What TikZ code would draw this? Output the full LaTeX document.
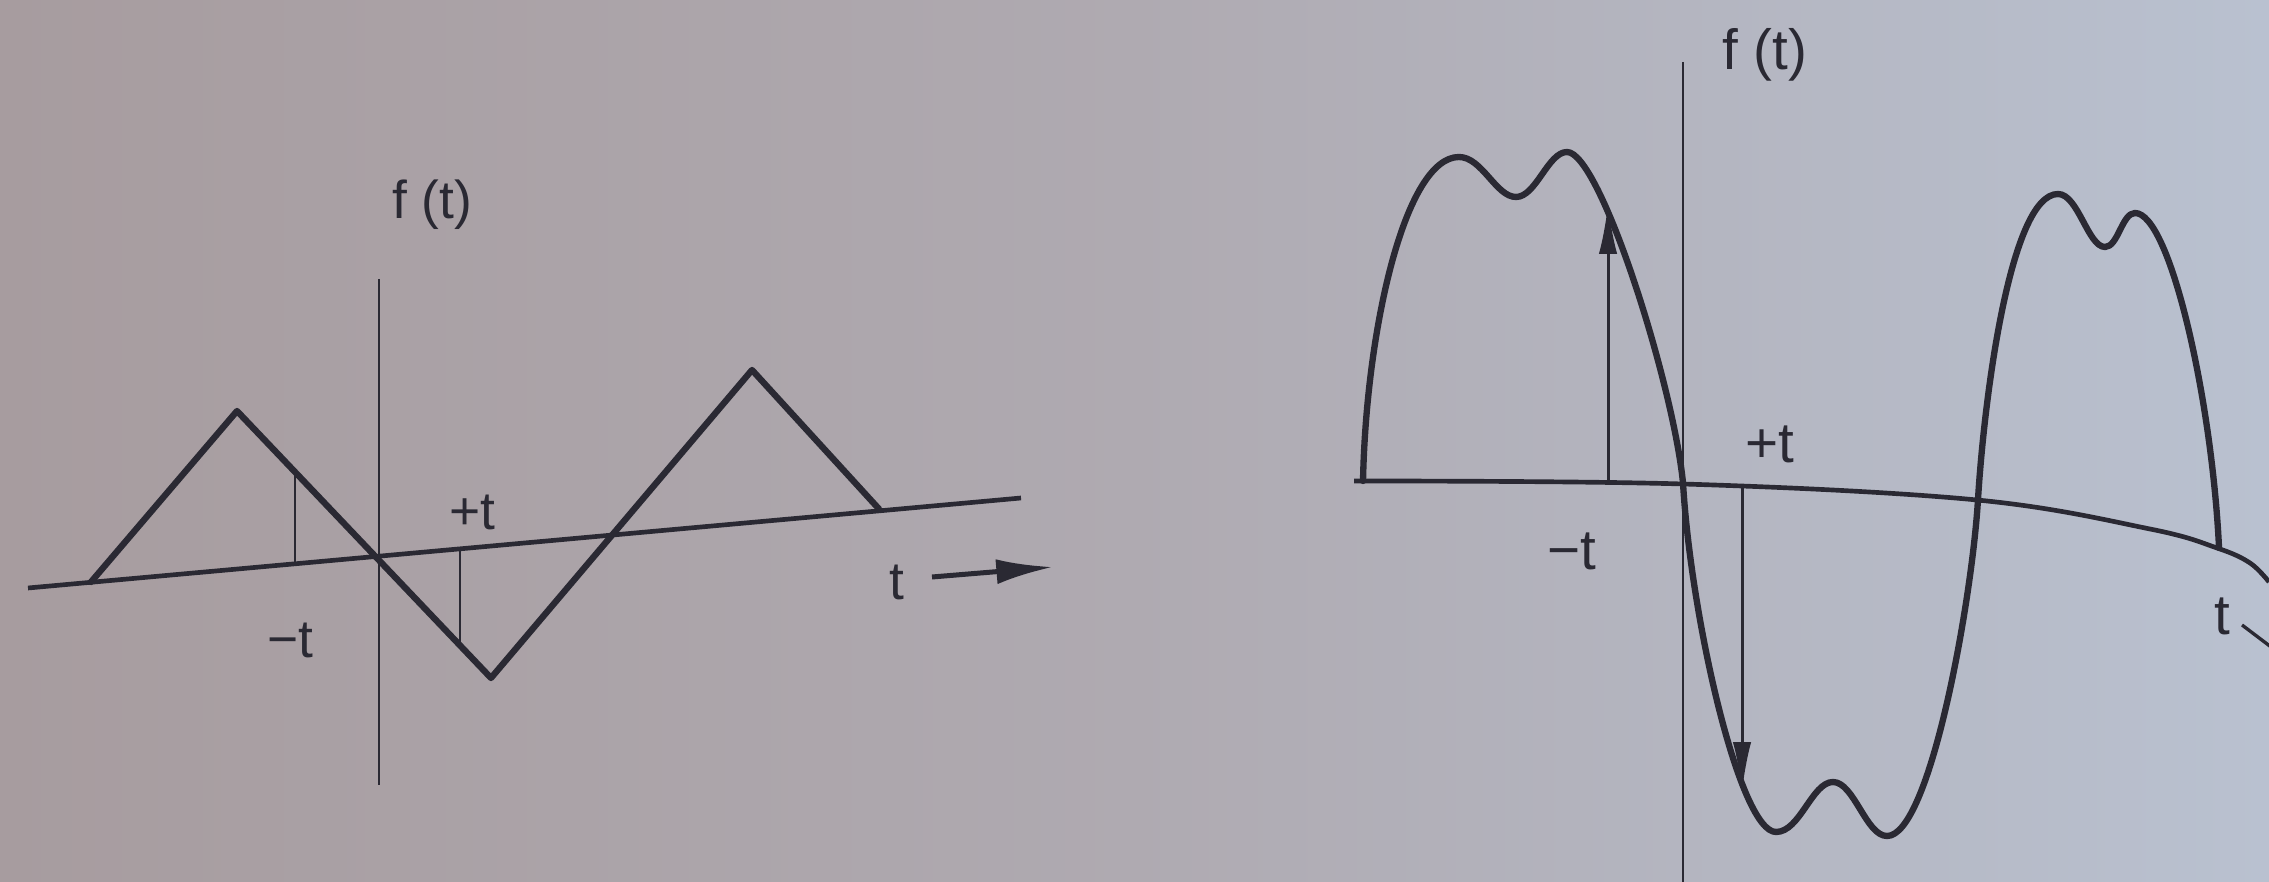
\documentclass[tikz,border=0pt]{standalone}
\usepackage{fontspec}
\setmainfont{Liberation Sans}
\usetikzlibrary{arrows.meta}
\definecolor{ink}{HTML}{2A2933}
\definecolor{bgL}{HTML}{A79C9F}
\definecolor{bgM}{HTML}{AFAAB1}
\definecolor{bgR}{HTML}{B9C1D0}
\tikzset{
  wave/.style={draw=ink, line width=1.9pt, line join=round, line cap=round},
  axisthick/.style={draw=ink, line width=1.4pt},
  axisthin/.style={draw=ink, line width=0.8pt},
  marker/.style={draw=ink, line width=0.8pt},
  lbl/.style={text=ink, font=\fontsize{16}{18}\selectfont, inner sep=1pt},
  rlbl/.style={text=ink, font=\fontsize{17}{19}\selectfont, inner sep=1pt},
  bigarrow/.style={draw=ink, line width=1.5pt, -{Latex[length=17pt,width=7.5pt]}},
  vecarrow/.style={draw=ink, line width=0.9pt, -{Latex[length=15pt,width=5.5pt]}}
}
\begin{document}
\begin{tikzpicture}[x=0.3pt, y=-0.3pt]
\useasboundingbox (0,0) rectangle (2269,882);
\shade[left color=bgL, right color=bgR, middle color=bgM] (0,0) rectangle (2269,882);

% ---------- left diagram ----------
\coordinate (LaxA) at (28,588);
\coordinate (LaxB) at (1021,498);
\coordinate (LvT) at (379,279);
\coordinate (LvB) at (379,785);
\coordinate (T0) at (91,582);
\coordinate (T1) at (237,411);
\coordinate (T2) at (491,678);
\coordinate (T3) at (752,370);
\coordinate (T4) at (879,509);
\coordinate (MnTop) at (295,472);
\coordinate (MnBot) at (295,564);
\coordinate (MpTop) at (460,549);
\coordinate (MpBot) at (460,645);
\coordinate (LarA) at (932,577);
\coordinate (LarB) at (1053,567);

\draw[axisthick] (LaxA) -- (LaxB);
\draw[axisthin] (LvT) -- (LvB);
\draw[wave] (T0) -- (T1) -- (T2) -- (T3) -- (T4);
\draw[marker] (MnTop) -- (MnBot);
\draw[marker] (MpTop) -- (MpBot);
\draw[bigarrow] (LarA) -- (LarB);

\node[lbl] (Lf) at (432,205) {f (t)};
\node[lbl] (Lp) at (472,512) {+t};
\node[lbl] (Lm) at (290,640) {−t};
\node[lbl] (Lt) at (897,582) {t};

% ---------- right diagram ----------
\coordinate (RvT) at (1683,62);
\coordinate (RvB) at (1683,882);
\coordinate (Rup0) at (1608,481);
\coordinate (Rup1) at (1608,204);
\coordinate (Rdn0) at (1742,487);
\coordinate (Rdn1) at (1742,792);
\coordinate (RtA) at (2242,625);
\coordinate (RtB) at (2275,650);

\coordinate (W0) at (1363,481);
\coordinate (W1) at (1459,157);
\coordinate (W2) at (1516,197);
\coordinate (W3) at (1567,152);
\coordinate (W4) at (1683,483);
\coordinate (W5) at (1776,832);
\coordinate (W6) at (1833,782);
\coordinate (W7) at (1887,836);
\coordinate (W8) at (1978,499);
\coordinate (W9) at (2058,194);
\coordinate (W10) at (2105,247);
\coordinate (W11) at (2135,213);
\coordinate (W12) at (2219,548);

\draw[axisthick] plot[smooth, tension=0.6] coordinates {(1354,481) (1683,484) (1977,500) (2150,529) (2217,548) (2250,563) (2269,582)};
\draw[axisthin] (RvT) -- (RvB);
\draw[wave] (W0)
  .. controls (1366,330) and (1405,157) .. (W1)
  .. controls (1482,157) and (1496,197) .. (W2)
  .. controls (1536,197) and (1548,152) .. (W3)
  .. controls (1600,152) and (1673,383) .. (W4)
  .. controls (1691,620) and (1740,832) .. (W5)
  .. controls (1800,832) and (1812,782) .. (W6)
  .. controls (1854,782) and (1866,836) .. (W7)
  .. controls (1930,836) and (1972,600) .. (W8)
  .. controls (1984,400) and (2010,194) .. (W9)
  .. controls (2078,194) and (2088,247) .. (W10)
  .. controls (2118,247) and (2122,213) .. (W11)
  .. controls (2170,213) and (2212,400) .. (W12);
\draw[vecarrow] (Rup0) -- (Rup1);
\draw[vecarrow] (Rdn0) -- (Rdn1);
\draw[marker, line width=1pt] (RtA) -- (RtB);

\node[rlbl] (Rf) at (1765,55) {f (t)};
\node[rlbl] (Rp) at (1770,444) {+t};
\node[rlbl] (Rm) at (1572,551) {−t};
\node[rlbl] (Rt) at (2222,616) {t};
\end{tikzpicture}
\end{document}
